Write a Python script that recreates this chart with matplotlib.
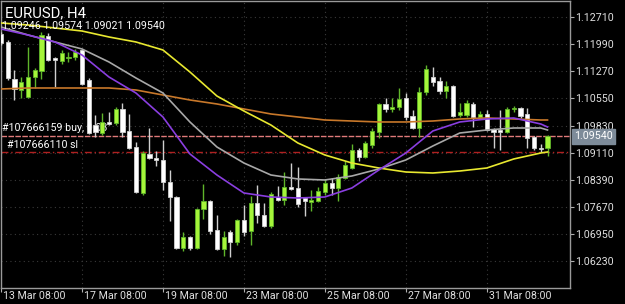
import matplotlib
matplotlib.use("Agg")
import matplotlib.pyplot as plt
from matplotlib.patches import Rectangle
import numpy as np

# ---------------- data ----------------
symbol_title = "EURUSD, H4"
ohlc_header = "1.09246 1.09574 1.09021 1.09540"

# bar index -1 == 13 Mar 08:00 (H4 bars)
opens = [1.12266, 1.12053, 1.11069, 1.10776, 1.10590, 1.11122, 1.11281, 1.12212, 1.11627, 1.11547,
         1.11627, 1.11654, 1.11840, 1.11042, 1.09845, 1.09632, 1.09925, 1.09898, 1.10271, 1.09685,
         1.09260, 1.08036, 1.09074, 1.08967, 1.08914, 1.08329, 1.07930, 1.06573, 1.06866, 1.06573,
         1.07611, 1.07823, 1.07052, 1.06547, 1.06999, 1.06733, 1.07318, 1.07025, 1.07770, 1.07451,
         1.07158, 1.07930, 1.07850, 1.08196, 1.08169, 1.07903, 1.07797, 1.07823, 1.08063, 1.08302,
         1.08169, 1.08435, 1.08701, 1.09180, 1.08994, 1.09313, 1.09659, 1.10404, 1.10271, 1.10324,
         1.10563, 1.10084, 1.09765, 1.10723, 1.11122, 1.11015, 1.10749, 1.10882, 1.10111, 1.10111,
         1.10404, 1.10058, 1.10138, 1.09739, 1.09712, 1.09659, 1.10271, 1.10297, 1.10138, 1.09526,
         1.09233, 1.09246]
highs = [1.12319, 1.12106, 1.11308, 1.11122, 1.11920, 1.11361, 1.12319, 1.12292, 1.11654, 1.11840,
         1.11787, 1.11867, 1.11867, 1.11095, 1.10111, 1.10164, 1.10191, 1.10324, 1.10430, 1.10138,
         1.09393, 1.09153, 1.09765, 1.09153, 1.09446, 1.08648, 1.07956, 1.06999, 1.06892, 1.07637,
         1.08276, 1.07850, 1.07451, 1.07025, 1.07052, 1.07345, 1.07717, 1.07956, 1.08249, 1.07770,
         1.08063, 1.08222, 1.08595, 1.08834, 1.08728, 1.07930, 1.08116, 1.08196, 1.08409, 1.08435,
         1.08542, 1.08887, 1.09340, 1.09233, 1.09419, 1.09765, 1.10430, 1.10563, 1.10563, 1.10829,
         1.10696, 1.10244, 1.10856, 1.11441, 1.11388, 1.11122, 1.11015, 1.10909, 1.10430, 1.10510,
         1.10457, 1.10217, 1.10244, 1.09765, 1.10244, 1.10324, 1.10350, 1.10324, 1.10297, 1.09552,
         1.09340, 1.09574]
lows = [1.11973, 1.11042, 1.10510, 1.10563, 1.10563, 1.10829, 1.11069, 1.11547, 1.10856, 1.11468,
        1.11521, 1.11574, 1.10909, 1.09606, 1.09526, 1.09579, 1.09845, 1.09845, 1.09526, 1.09207,
        1.08036, 1.07983, 1.08941, 1.08754, 1.08116, 1.07291, 1.06547, 1.06493, 1.06520, 1.06547,
        1.07345, 1.06946, 1.06520, 1.06360, 1.06334, 1.06653, 1.06892, 1.06653, 1.07238, 1.07132,
        1.07105, 1.07823, 1.07717, 1.08116, 1.07664, 1.07424, 1.07557, 1.07797, 1.07983, 1.07983,
        1.07823, 1.08409, 1.08675, 1.08887, 1.08967, 1.09233, 1.09499, 1.10191, 1.10191, 1.10244,
        1.09978, 1.09739, 1.09526, 1.10643, 1.10882, 1.10670, 1.10563, 1.10058, 1.10058, 1.10058,
        1.09792, 1.10031, 1.09685, 1.09233, 1.09180, 1.09632, 1.10191, 1.10031, 1.09233, 1.09180,
        1.09127, 1.09021]
closes = [1.12026, 1.11095, 1.10803, 1.10989, 1.11122, 1.11308, 1.12239, 1.11574, 1.11574, 1.11760,
          1.11654, 1.11787, 1.10936, 1.09632, 1.09659, 1.09925, 1.09872, 1.10271, 1.09659, 1.09233,
          1.08063, 1.09100, 1.08967, 1.08914, 1.08329, 1.07930, 1.06573, 1.06866, 1.06573, 1.07611,
          1.07823, 1.07025, 1.06547, 1.06866, 1.06733, 1.07318, 1.06999, 1.07770, 1.07451, 1.07158,
          1.08010, 1.07850, 1.08196, 1.08143, 1.07744, 1.07823, 1.07850, 1.08089, 1.08302, 1.08169,
          1.08462, 1.08781, 1.09180, 1.08994, 1.09366, 1.09685, 1.10404, 1.10271, 1.10324, 1.10537,
          1.10058, 1.09765, 1.10723, 1.11335, 1.10989, 1.10749, 1.10882, 1.10084, 1.10191, 1.10430,
          1.10058, 1.10138, 1.09712, 1.09659, 1.09659, 1.10271, 1.10297, 1.10084, 1.09499, 1.09233,
          1.09207, 1.09540]

# moving averages read at sampled bars
ma_bars = [-1, 3, 7, 11, 15, 19, 23, 27, 31, 35, 39, 43, 47, 51, 55, 59, 63, 67, 71, 75, 79, 80]
ma_yellow = [1.12558, 1.12505, 1.12425, 1.12345, 1.12186, 1.12053, 1.11840, 1.11255, 1.10616, 1.10217,
             1.09845, 1.09366, 1.09047, 1.08834, 1.08701, 1.08595, 1.08568, 1.08621, 1.08701, 1.08941,
             1.09100, 1.09127]
ma_gray = [1.12452, 1.12239, 1.12053, 1.11867, 1.11521, 1.11095, 1.10696, 1.09925, 1.09260, 1.08834,
           1.08515, 1.08409, 1.08382, 1.08488, 1.08675, 1.08914, 1.09286, 1.09632, 1.09712, 1.09765,
           1.09765, 1.09712]
ma_purple = [1.12399, 1.12239, 1.12053, 1.11707, 1.11122, 1.10696, 1.10058, 1.09074, 1.08515, 1.08036,
             1.07930, 1.07903, 1.07930, 1.08169, 1.08648, 1.09100, 1.09685, 1.09925, 1.10005, 1.10031,
             1.09872, 1.09792]
ma_brown = [1.10803, 1.10829, 1.10829, 1.10829, 1.10829, 1.10776, 1.10643, 1.10510, 1.10404, 1.10271,
            1.10138, 1.10058, 1.09978, 1.09951, 1.09925, 1.09925, 1.09951, 1.10005, 1.10031, 1.10005,
            1.09978, 1.09978]

price_ticks = [1.12710, 1.11990, 1.11270, 1.10550, 1.09830, 1.09110, 1.08390, 1.07670, 1.06950, 1.06230]
date_labels = ["13 Mar 08:00", "17 Mar 08:00", "19 Mar 08:00", "23 Mar 08:00",
               "25 Mar 08:00", "27 Mar 08:00", "31 Mar 08:00"]
date_bars = [-1, 11, 23, 35, 47, 59, 71]

buy_label = "#107666159 buy, 0.03"
buy_price = 1.09540
sl_label = "#107666110 sl"
sl_price = 1.09137
bid_price = 1.09540

# ---------------- style ----------------
W, H = 625, 304
FONT = "Roboto"
BG = "black"
BULL_FILL = "#a6f53a"
BULL_EDGE = "#5fb52a"
BEAR_FILL = "white"
BEAR_EDGE = "#d0d0d0"

fig = plt.figure(figsize=(W / 100, H / 100), dpi=100, facecolor=BG)
L, R, T, B = 1, 570, 1, 288
ax = fig.add_axes([L / W, 1 - B / H, (R - L) / W, (B - T) / H], facecolor=BG)

bar_px = 6.756
first_px = 7.0
x_lo = (L - first_px) / bar_px
x_hi = (R - first_px) / bar_px
ax.set_xlim(x_lo, x_hi)
ax.set_ylim(1.05509, 1.13143)

# grid
for p in price_ticks:
    ax.axhline(p, color="#3a3a3a", lw=0.8, ls=(0, (1, 3)), zorder=0)
for b in date_bars:
    ax.axvline(b, color="#3a3a3a", lw=0.8, ls=(0, (1, 3)), zorder=0)

# order lines
ax.axhline(buy_price, color="#e07a7a", lw=1.0, ls=(0, (4, 1)), zorder=1)
ax.axhline(sl_price, color="#b02020", lw=1.0, ls=(0, (5, 2, 1, 2)), zorder=1)
ax.text(0.5 / (R - L), buy_price + 0.0018 * 0 + 0.0022, buy_label, transform=ax.get_yaxis_transform(),
        color="white", fontsize=7.7, family=FONT, va="center", ha="left", zorder=1)
ax.text(6 / (R - L), sl_price + 0.0017, sl_label, transform=ax.get_yaxis_transform(),
        color="white", fontsize=7.7, family=FONT, va="center", ha="left", zorder=1)

# candles
n = len(opens)
bw = 0.62
for k in range(n):
    i = k - 1
    o, h, l, c = opens[k], highs[k], lows[k], closes[k]
    bull = c >= o
    wick_col = BULL_EDGE if bull else "#cfcfcf"
    ax.plot([i, i], [l, h], color=wick_col, lw=1.0, zorder=3, solid_capstyle="butt")
    lo_, hi_ = min(o, c), max(o, c)
    hh = max(hi_ - lo_, 0.00008)
    ax.add_patch(Rectangle((i - bw / 2, lo_), bw, hh,
                           facecolor=BULL_FILL if bull else BEAR_FILL,
                           edgecolor=BULL_EDGE if bull else BEAR_EDGE, lw=0.6, zorder=4))

# moving averages
ax.plot(ma_bars, ma_brown, color="#c8782a", lw=1.2, zorder=5)
ax.plot(ma_bars, ma_yellow, color="#e8e830", lw=1.2, zorder=5)
ax.plot(ma_bars, ma_gray, color="#a8a8a8", lw=1.2, zorder=5)
ax.plot(ma_bars, ma_purple, color="#8a3ee0", lw=1.2, zorder=5)

# frame
for s in ax.spines.values():
    s.set_color("#9a9a9a")
    s.set_linewidth(1.0)

# right price axis
ax.yaxis.tick_right()
ax.set_yticks(price_ticks)
ax.set_yticklabels([f"{p:.5f}" for p in price_ticks])
ax.tick_params(axis="y", direction="out", length=3, width=0.8, color="#b0b0b0",
               labelcolor="#e0e0e0", labelsize=7.7, pad=1)
for t in ax.get_yticklabels():
    t.set_family(FONT)

# bottom date axis
ax.set_xticks(date_bars)
ax.set_xticklabels([])
ax.tick_params(axis="x", direction="out", length=3, width=0.8, color="#b0b0b0")
for lab, b in zip(date_labels, date_bars):
    ax.annotate(lab, xy=(b, 0), xycoords=("data", "axes fraction"),
                xytext=(2, -8), textcoords="offset pixels", color="#e0e0e0",
                fontsize=7.7, family=FONT, ha="left", va="center", annotation_clip=False)

# bid price box
ax.annotate(f"{bid_price:.5f}", xy=(1, bid_price), xycoords=("axes fraction", "data"),
            xytext=(4, 0), textcoords="offset pixels", color="white", fontsize=7.7, family=FONT,
            ha="left", va="center", annotation_clip=False, zorder=10,
            bbox=dict(boxstyle="square,pad=0.2", fc="#7d8b99", ec="#7d8b99"))

# header texts
fig.text(5 / W, 1 - 13 / H, symbol_title, color="white", fontsize=10.7, family=FONT, va="center", ha="left")
fig.text(2 / W, 1 - 26 / H, ohlc_header, color="white", fontsize=7.7, family=FONT, va="center", ha="left")

fig.savefig("out.png", dpi=100, facecolor=BG)
